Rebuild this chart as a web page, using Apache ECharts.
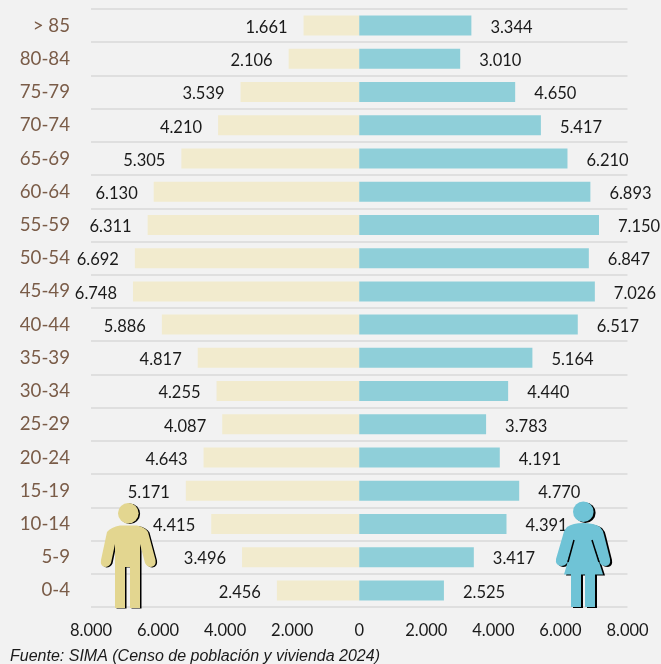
<!DOCTYPE html>
<html><head><meta charset="utf-8">
<style>html,body{margin:0;padding:0;background:#f2f2f2}#c{width:661px;height:664px}</style>
<script src="https://cdn.jsdelivr.net/npm/echarts@6/dist/echarts.min.js"></script>
</head><body><div id="c"></div>
<script>
const categories = ['> 85','80-84','75-79','70-74','65-69','60-64','55-59','50-54','45-49','40-44','35-39','30-34','25-29','20-24','15-19','10-14','5-9','0-4'];
const hombres = [1661,2106,3539,4210,5305,6130,6311,6692,6748,5886,4817,4255,4087,4643,5171,4415,3496,2456];
const mujeres = [3344,3010,4650,5417,6210,6893,7150,6847,7026,6517,5164,4440,3783,4191,4770,4391,3417,2525];
const fmt = v => String(Math.abs(v)).replace(/\B(?=(\d{3})+$)/g,'.');
const font = 'Lato, "Open Sans", sans-serif';
const manPath = 'M120,525.5 L137,525.5 Q145,527 148,532 L155.5,560 Q156.5,566 151,567 Q147,567 145,563 L140,544 L140,608 L130,608 L130,567 L125,567 L125,608 L115,608 L115,544 L111,563 Q109,567 105,567 Q100,566 101,560 L107,532 Q111,527 120,525.5 Z';
const womanPath = 'M583,523 Q594,523 600,527 Q603,530 604,535 L610,559 Q611,565 606,566 Q601,566 600,563 L592,540 L603,574.5 L595,574.5 L595,607 L585,607 L585,574.5 L581,574.5 L581,607 L571,607 L571,574.5 L564,574.5 L574,540 L567,563 Q565,566 561,566 Q555,565 556,559 L563,535 Q564,530 567,527 Q573,523 583,523 Z';
const womanDetail = [[[574,540],[568,562]],[[592,540],[599,562]]];
echarts.graphic.registerShape('manIcon', echarts.graphic.extendPath(manPath, {}));
echarts.graphic.registerShape('womanIcon', echarts.graphic.extendPath(womanPath, {}));
const shadow = {shadowBlur:0, shadowColor:'#000', shadowOffsetX:1.5, shadowOffsetY:0.5};
const shadowW = {shadowBlur:0, shadowColor:'#000', shadowOffsetX:2, shadowOffsetY:1};
const chart = echarts.init(document.getElementById('c'), null, {renderer:'canvas'});
chart.setOption({
  animation:false,
  backgroundColor:'#f2f2f2',
  grid:{left:91,right:33.5,top:9,bottom:57},
  xAxis:{type:'value',min:-8000,max:8000,interval:2000,
    axisLine:{show:false},axisTick:{show:false},splitLine:{show:false},
    axisLabel:{formatter:fmt,color:'#1a1a1a',fontSize:16.5,fontFamily:font,margin:15,hideOverlap:false}},
  yAxis:{type:'category',inverse:true,data:categories,boundaryGap:true,
    axisLine:{show:false},axisTick:{show:false},
    splitLine:{show:true,interval:0,lineStyle:{color:'#d9d9d9',width:1.5}},
    axisLabel:{color:'#7a5c48',fontSize:18.7,fontFamily:font,margin:21,interval:0,padding:[4,0,0,0]}},
  series:[
    {name:'Hombres',type:'bar',stack:'t',barWidth:20,data:hombres.map(v=>-v),
     itemStyle:{color:'#f2ebce'},
     label:{show:true,position:'left',distance:16,formatter:p=>fmt(p.value),color:'#1a1a1a',fontSize:16.5,fontFamily:font,offset:[0,2]}},
    {name:'Mujeres',type:'bar',stack:'t',barWidth:20,data:mujeres,
     itemStyle:{color:'#8fcfd9'},
     label:{show:true,position:'right',distance:19,formatter:p=>fmt(p.value),color:'#1a1a1a',fontSize:16.5,fontFamily:font,offset:[0,2]}}
  ],
  graphic:[
    {type:'manIcon',z:50,style:Object.assign({fill:'#e3d690'},shadow)},
    {type:'circle',z:50,shape:{cx:128.3,cy:513.3,r:10.3},style:Object.assign({fill:'#e3d690'},shadow)},
    {type:'womanIcon',z:50,style:Object.assign({fill:'#6fc3d6'},shadowW)},
    {type:'circle',z:50,shape:{cx:583.3,cy:511.7,r:10.3},style:Object.assign({fill:'#6fc3d6'},shadowW)},
    ...womanDetail.map(points=>({type:'polyline',z:51,shape:{points},style:{stroke:'#000',lineWidth:1.5,fill:null}})),
    {type:'text',z:50,left:10,top:649,style:{text:'Fuente: SIMA (Censo de población y vivienda 2024)',fill:'#1a1a1a',fontSize:16,fontStyle:'italic',fontFamily:'"Liberation Sans", Arial, sans-serif'}}
  ]
});
</script></body></html>
